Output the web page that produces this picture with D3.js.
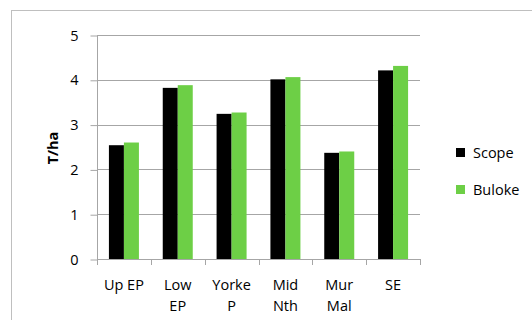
<!DOCTYPE html>
<html>
<head>
<meta charset="utf-8">
<script src="https://cdn.jsdelivr.net/npm/d3@7"></script>
<style>
  body { margin: 0; background: #fff; }
  text { font-family: "Open Sans", "Liberation Sans", sans-serif; fill: #000; }
</style>
</head>
<body>
<script>
// chart data
var regions = [["Up EP"], ["Low", "EP"], ["Yorke", "P"], ["Mid", "Nth"], ["Mur", "Mal"], ["SE"]];
var scope  = [2.54, 3.82, 3.24, 4.01, 2.37, 4.21];
var buloke = [2.60, 3.88, 3.27, 4.06, 2.40, 4.31];
var seriesNames = ["Scope", "Buloke"];
var yTicks = [0, 1, 2, 3, 4, 5];

var colors = ["#000000", "#6dcf46"];
var W = 532, H = 320;
var plot = {left: 97, right: 420, top: 35, bottom: 259};
var fs = 14.5;

var svg = d3.select("body").append("svg")
    .attr("width", W).attr("height", H);

// outer frame
svg.append("rect")
    .attr("x", 11.5).attr("y", 10.5)
    .attr("width", 530).attr("height", 320)
    .attr("fill", "none").attr("stroke", "#bfbfbf");

var x = d3.scaleBand().domain(d3.range(regions.length))
    .range([plot.left, plot.right]).paddingInner(0).paddingOuter(0);
var y = d3.scaleLinear().domain([0, 5]).range([plot.bottom, plot.top]);

// gridlines
svg.append("g").selectAll("line").data(yTicks.slice(1)).enter().append("line")
    .attr("x1", plot.left).attr("x2", plot.right)
    .attr("y1", d => Math.round(y(d)) + 0.5).attr("y2", d => Math.round(y(d)) + 0.5)
    .attr("stroke", "#a6a6a6");

// y axis
var yAxis = svg.append("g").attr("transform", "translate(" + (plot.left + 0.5) + ",0.5)")
    .call(d3.axisLeft(y).tickValues(yTicks).tickSize(7).tickPadding(12).tickFormat(d3.format("d")));
yAxis.select(".domain").attr("stroke", "#a6a6a6").attr("d", "M0," + plot.top + "V" + plot.bottom);
yAxis.selectAll(".tick line").attr("stroke", "#a6a6a6");
yAxis.selectAll("text").attr("font-size", fs).attr("font-family", "Open Sans").attr("fill", "#000");

// x axis line + tick marks at band boundaries
var bounds = d3.range(regions.length + 1).map(i => plot.left + i * x.bandwidth());
svg.append("line")
    .attr("x1", plot.left).attr("x2", plot.right)
    .attr("y1", plot.bottom + 0.5).attr("y2", plot.bottom + 0.5)
    .attr("stroke", "#a6a6a6");
svg.append("g").selectAll("line").data(bounds).enter().append("line")
    .attr("x1", d => Math.round(d) + 0.5).attr("x2", d => Math.round(d) + 0.5)
    .attr("y1", plot.bottom).attr("y2", plot.bottom + 6)
    .attr("stroke", "#a6a6a6");

// bars
var barW = 15;
var series = [scope, buloke];
series.forEach(function(vals, s) {
  svg.append("g").selectAll("rect").data(vals).enter().append("rect")
      .attr("x", (d, i) => x(i) + x.bandwidth() / 2 - barW + s * barW)
      .attr("y", d => y(d))
      .attr("width", barW)
      .attr("height", d => y(0) - y(d))
      .attr("fill", colors[s]);
});

// category labels
var cat = svg.append("g").selectAll("text").data(regions).enter().append("text")
    .attr("text-anchor", "middle")
    .attr("font-size", fs);
cat.each(function(lines, i) {
  var t = d3.select(this);
  lines.forEach(function(l, j) {
    t.append("tspan")
        .attr("x", x(i) + x.bandwidth() / 2)
        .attr("y", 290 + j * 21)
        .text(l);
  });
});

// y title
svg.append("text")
    .attr("transform", "translate(58,148) rotate(-90)")
    .attr("text-anchor", "middle")
    .attr("font-size", fs).attr("font-weight", "bold")
    .text("T/ha");

// legend
var leg = svg.append("g").selectAll("g").data(seriesNames).enter().append("g")
    .attr("transform", (d, i) => "translate(456," + (148 + i * 37) + ")");
leg.append("rect").attr("width", 9).attr("height", 9)
    .attr("fill", (d, i) => colors[i]);
leg.append("text").attr("x", 17).attr("y", 10)
    .attr("font-size", fs).text(d => d);
</script>
</body>
</html>
